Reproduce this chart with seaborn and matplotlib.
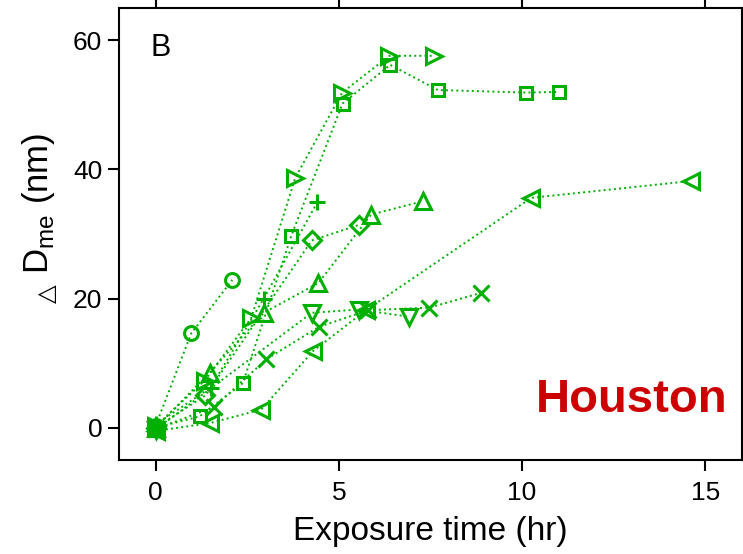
import numpy as np
import pandas as pd
import matplotlib
matplotlib.use("Agg")
import matplotlib.pyplot as plt
import seaborn as sns

# ---- data ----
t_circle = [0.0, 0.97, 2.09]
d_circle = [0.3, 14.6, 22.9]

t_square = [0.0, 1.20, 2.38, 3.70, 5.10, 6.40, 7.70, 10.10, 11.00]
d_square = [0.0, 1.75, 6.9, 29.7, 50.2, 56.2, 52.3, 51.9, 52.0]

t_tri_up = [0.0, 1.47, 2.95, 4.44, 5.88, 7.30]
d_tri_up = [0.0, 8.5, 17.8, 22.4, 33.0, 35.1]

t_tri_down = [0.0, 4.26, 5.54, 6.90]
d_tri_down = [-0.3, 17.8, 18.3, 17.2]

t_tri_left = [0.0, 1.47, 2.88, 4.30, 5.74, 10.25, 14.60]
d_tri_left = [-0.5, 0.7, 2.8, 11.9, 18.2, 35.6, 38.2]

t_tri_right = [0.0, 1.34, 2.61, 3.81, 5.09, 6.38, 7.60]
d_tri_right = [0.2, 7.3, 17.0, 38.7, 51.9, 57.6, 57.6]

t_diamond = [0.0, 1.36, 4.26, 5.54]
d_diamond = [0.0, 5.0, 29.0, 31.4]

t_plus = [0.0, 1.50, 2.95, 4.41]
d_plus = [0.5, 6.2, 20.0, 34.9]

t_cross = [0.0, 1.59, 3.02, 4.45, 5.80, 7.47, 8.89]
d_cross = [-0.2, 3.2, 10.6, 15.6, 18.2, 18.6, 20.9]

x_ticks = [0, 5, 10, 15]
y_ticks = [0, 20, 40, 60]

series = [
    (t_circle, d_circle, "o", 10),
    (t_square, d_square, "s", 9),
    (t_tri_up, d_tri_up, "^", 11),
    (t_tri_down, d_tri_down, "v", 11),
    (t_tri_left, d_tri_left, "<", 11),
    (t_tri_right, d_tri_right, ">", 11),
    (t_diamond, d_diamond, "D", 9),
    (t_plus, d_plus, "+", 11),
    (t_cross, d_cross, "x", 11),
]

sns.set_theme(style="ticks")
plt.rcParams["font.family"] = ["Liberation Sans", "DejaVu Sans"]
plt.rcParams["mathtext.fontset"] = "dejavusans"
plt.rcParams["text.color"] = "black"
plt.rcParams["axes.labelcolor"] = "black"

green = "#00B000"

fig = plt.figure(figsize=(7.43, 5.54), dpi=100)
ax = fig.add_axes([119 / 743, 94 / 554, 623 / 743, 452 / 554])

for t, d, m, ms in series:
    df = pd.DataFrame({"t": t, "d": d})
    sns.lineplot(data=df, x="t", y="d", ax=ax, color=green, linestyle=":",
                 linewidth=1.4, marker=m, markersize=ms,
                 markeredgecolor=green, markerfacecolor="none",
                 markeredgewidth=2.2, estimator=None, sort=False)

ax.set_xlim(-1, 16)
ax.set_ylim(-5, 65)
ax.set_xticks(x_ticks)
ax.set_yticks(y_ticks)

for s in ax.spines.values():
    s.set_visible(True)
    s.set_color("black")
    s.set_linewidth(1.5)

ax.tick_params(direction="out", length=8, width=1.5, labelsize=19,
               colors="black", top=True, right=True, labeltop=False,
               labelright=False)
ax.tick_params(axis="x", pad=7)
ax.tick_params(axis="y", pad=4)

ax.set_xlabel("Exposure time (hr)", fontsize=24, labelpad=8)
ax.set_ylabel(r"$_{\triangle}\,$D$_{\mathregular{me}}$ (nm)", fontsize=25)
ax.yaxis.set_label_coords(-0.095, 0.53)

ax.text(0.05, 0.945, "B", transform=ax.transAxes, ha="left", va="top",
        fontsize=22, color="black")
ax.text(0.976, 0.133, "Houston", transform=ax.transAxes, ha="right",
        va="center", fontsize=34, fontweight="bold", color="#CC0000")

fig.savefig("out.png", dpi=100)
